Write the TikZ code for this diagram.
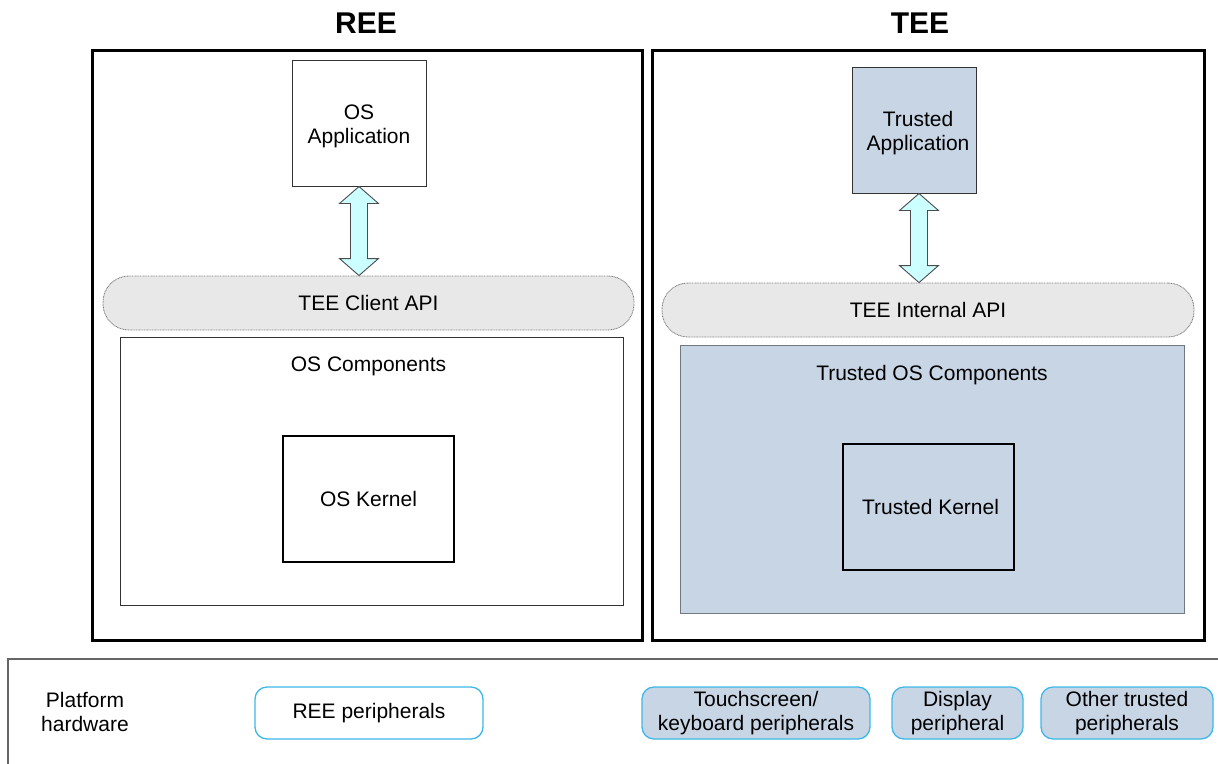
\documentclass[tikz,border=0pt]{standalone}
\usepackage{fontspec}
\setmainfont{Liberation Sans}
\usetikzlibrary{calc}
\definecolor{trustfill}{HTML}{C8D5E5}
\definecolor{periphline}{HTML}{3DB8E8}
\definecolor{arrowfill}{HTML}{CCFFFF}
\definecolor{apifill}{HTML}{E8E8E8}
\definecolor{softline}{HTML}{707880}
\begin{document}
\begin{tikzpicture}[x=1pt,y=-1pt,
  font=\fontsize{21}{24}\selectfont,
  every node/.style={inner sep=0pt, align=center},
  envbox/.style={draw=black, line width=3pt},
  title/.style={font=\fontsize{30}{32}\selectfont\bfseries},
  appbox/.style={draw=black!80, line width=1pt},
  compbox/.style={draw=black!80, line width=1pt},
  kernbox/.style={draw=black, line width=1.6pt},
  apipill/.style={draw=black!50, fill=apifill, line width=0.9pt,
    dash pattern=on 0.9pt off 0.7pt, rounded corners=26pt},
  periph/.style={draw=periphline, line width=1.3pt, rounded corners=12pt,
    minimum height=52pt},
  hwline/.style={draw=black!60, line width=1.5pt},
  dblarrow/.style={draw=black!70, fill=arrowfill, line width=0.9pt, line join=miter},
]
\useasboundingbox (0,0) rectangle (1218,763);

% Titles
\node[title] (reetitle) at (366,23) {REE};
\node[title] (teetitle) at (920,23) {TEE};

% Execution environments
\node[envbox, minimum width=550pt, minimum height=590pt] (ree) at (367,345) {};
\node[envbox, minimum width=552pt, minimum height=590pt] (tee) at (928,345) {};

% REE side
\node[appbox, minimum width=134pt, minimum height=126pt] (osapp) at (359,123) {};
\node (osapplbl) at ($(osapp.center)+(0,3)$) {OS\\Application};
\node[apipill, minimum width=531pt, minimum height=54pt] (clientapi) at (368.5,303) {TEE Client API};
\node[compbox, minimum width=503pt, minimum height=268pt] (oscomp) at (371.5,471) {};
\node[anchor=north] (oscomplbl) at ($(oscomp.north)+(-3,20)$) {OS Components};
\node[kernbox, minimum width=171pt, minimum height=126pt] (oskern) at (368.5,499) {OS Kernel};

% TEE side
\node[appbox, fill=trustfill, minimum width=124pt, minimum height=126pt] (tapp) at (914,130) {};
\node (tapplbl) at ($(tapp.center)+(4,3)$) {Trusted\\Application};
\node[apipill, minimum width=532pt, minimum height=54pt] (intapi) at (928,310) {TEE Internal API};
\node[draw=softline, fill=trustfill, line width=1pt, minimum width=504pt, minimum height=268pt] (toscomp) at (932,479) {};
\node[anchor=north] (toscomplbl) at ($(toscomp.north)+(0,21)$) {Trusted OS Components};
\node[kernbox, fill=trustfill, minimum width=171pt, minimum height=126pt] (tkern) at (928.5,507) {\hspace*{4pt}Trusted Kernel};

% Double-headed arrows between applications and APIs
\coordinate (a1) at (osapp.south);
\coordinate (b1) at (osapp.south |- clientapi.north);
\draw[dblarrow] (a1) -- ($(a1)+(19.5,17)$) -- ($(a1)+(8.5,17)$) -- ($(b1)+(8.5,-17)$)
  -- ($(b1)+(19.5,-17)$) -- (b1) -- ($(b1)+(-19.5,-17)$) -- ($(b1)+(-8.5,-17)$)
  -- ($(a1)+(-8.5,17)$) -- ($(a1)+(-19.5,17)$) -- cycle;

\coordinate (a2) at ($(tapp.south)+(5,0)$);
\coordinate (b2) at (a2 |- intapi.north);
\draw[dblarrow] (a2) -- ($(a2)+(19.5,17)$) -- ($(a2)+(8.5,17)$) -- ($(b2)+(8.5,-17)$)
  -- ($(b2)+(19.5,-17)$) -- (b2) -- ($(b2)+(-19.5,-17)$) -- ($(b2)+(-8.5,-17)$)
  -- ($(a2)+(-8.5,17)$) -- ($(a2)+(-19.5,17)$) -- cycle;

% Platform hardware band
\draw[hwline] (8,770) -- (8,659) -- (1230,659);
\node (hwlbl) at (85,712) {Platform\\hardware};
\node[periph, fill=white, minimum width=228pt] (reeper) at (369,713) {REE peripherals};
\node[periph, fill=trustfill, minimum width=228pt] (touch) at (756,713) {Touchscreen/\\keyboard peripherals};
\node[periph, fill=trustfill, minimum width=131pt] (disp) at (957.5,713) {Display\\peripheral};
\node[periph, fill=trustfill, minimum width=172pt] (other) at (1127,713) {Other trusted\\peripherals};
\end{tikzpicture}
\end{document}
